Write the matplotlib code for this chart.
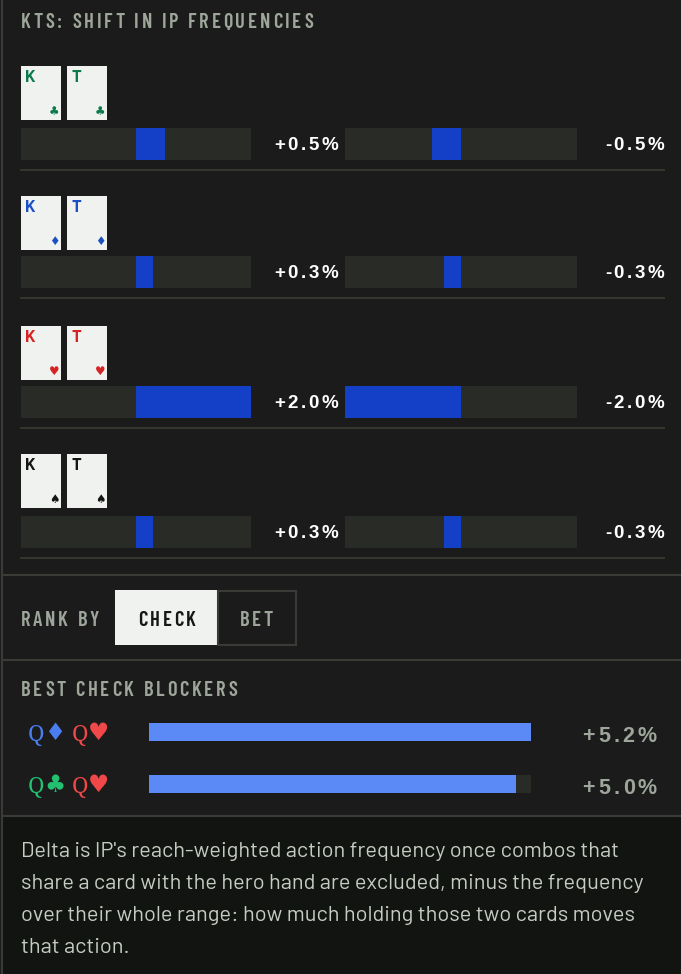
import matplotlib
matplotlib.use("Agg")
import matplotlib.pyplot as plt
from matplotlib.patches import Rectangle
from matplotlib.font_manager import FontProperties

# ---- data -------------------------------------------------------------
title = "KTS: SHIFT IN IP FREQUENCIES"
ranks = ["K", "T"]
suits = ["♣", "♦", "♥", "♠"]
check_delta = [0.5, 0.3, 2.0, 0.3]
bet_delta = [-0.5, -0.3, -2.0, -0.3]
delta_max = 2.0

blocker_cards = [[("Q", "♦"), ("Q", "♥")], [("Q", "♣"), ("Q", "♥")]]
blocker_values = [5.2, 5.0]

note_lines = [
    "Delta is IP's reach-weighted action frequency once combos that",
    "share a card with the hero hand are excluded, minus the frequency",
    "over their whole range: how much holding those two cards moves",
    "that action.",
]

# ---- style ------------------------------------------------------------
W, H = 681, 974
BG = "#1a1b1a"
NOTE_BG = "#121411"
TRACK = "#282b26"
BLUE = "#1340c6"
LIGHT_BLUE = "#5b8af7"
LINE = "#3a3b36"
MUTED = "#9ea69b"
CARD = "#f0f2ef"
card_col = {"♣": "#0b7a4c", "♦": "#1b4fc4", "♥": "#d42424", "♠": "#141514"}
label_col = {"♣": "#22c070", "♦": "#4a7ef0", "♥": "#f04848"}

fig = plt.figure(figsize=(W / 100, H / 100), dpi=100, facecolor=BG)
ax = fig.add_axes([0, 0, 1, 1])
ax.set_xlim(0, W)
ax.set_ylim(H, 0)
ax.set_axis_off()
renderer = fig.canvas.get_renderer()


def text_w(s, prop):
    return renderer.get_text_width_height_descent(s, prop, ismath=False)[0]


def tracked(x, y, s, prop, color, tracking=0.0, width=None, ha="left"):
    ws = [text_w(c, prop) for c in s]
    if width is not None:
        tracking = (width - sum(ws)) / (len(s) - 1)
    total = sum(ws) + tracking * (len(s) - 1)
    x0 = {"left": x, "right": x - total, "center": x - total / 2}[ha]
    for c, w in zip(s, ws):
        ax.text(x0, y, c, fontproperties=prop, color=color, va="baseline", ha="left")
        x0 += w + tracking


def bar_axes(x, y, w, h):
    a = fig.add_axes([x / W, 1 - (y + h) / H, w / W, h / H])
    a.set_facecolor(TRACK)
    a.set_xticks([])
    a.set_yticks([])
    for s in a.spines.values():
        s.set_visible(False)
    a.set_ylim(0, 1)
    return a


head = FontProperties(family="Barlow Condensed", weight=600, size=14.8)
valp = FontProperties(family="Liberation Sans", weight="bold", size=13.5)
rankp = FontProperties(family="Barlow", weight="bold", size=12)
suitp = FontProperties(family="DejaVu Sans", size=8.5)

# frame
ax.add_patch(Rectangle((3, 817), W, H - 817, facecolor=NOTE_BG, edgecolor="none"))
ax.plot([2, 2], [0, H], color=LINE, lw=1.5)
for yy in [575, 660, 816]:
    ax.plot([2, W], [yy, yy], color=LINE, lw=1.5)

tracked(21, 28, title, head, MUTED, width=292)

# ---- hand rows --------------------------------------------------------
card_tops = [66, 196, 326, 454]
bar_tops = [128, 256, 386, 516]
for i, suit in enumerate(suits):
    for j, r in enumerate(ranks):
        cx = 21 + j * 46
        cy = card_tops[i]
        ax.add_patch(Rectangle((cx, cy), 40, 54, facecolor=CARD, edgecolor="none"))
        ax.text(cx + 4, cy + 16, r, fontproperties=rankp, color=card_col[suit], va="baseline")
        ax.text(cx + 33, cy + 49, suit, fontproperties=suitp, color=card_col[suit],
                va="baseline", ha="center")

    bt = bar_tops[i]
    la = bar_axes(21, bt, 230, 32)
    la.set_xlim(-delta_max, delta_max)
    la.barh(0.5, check_delta[i], height=1, left=0, color=BLUE)
    ra = bar_axes(345, bt, 232, 32)
    ra.set_xlim(-delta_max, delta_max)
    ra.barh(0.5, bet_delta[i], height=1, left=0, color=BLUE)

    tracked(338, bt + 22, "%+.1f%%" % check_delta[i], valp, "white", tracking=2.5, ha="right")
    tracked(664, bt + 22, "%+.1f%%" % bet_delta[i], valp, "white", tracking=2.5, ha="right")
    ax.plot([21, 664], [bt + 42, bt + 42], color="#34352f", lw=1.5)

# ---- rank by ----------------------------------------------------------
tracked(21, 626, "RANK BY", head, MUTED, width=78)
ax.add_patch(Rectangle((115, 590), 102, 55, facecolor=CARD, edgecolor="none"))
ax.add_patch(Rectangle((218, 591), 78, 54, facecolor="none", edgecolor=LINE, lw=1.5))
tracked(138, 626, "CHECK", head, "#151615", width=58)
tracked(240, 626, "BET", head, MUTED, width=33)

# ---- blockers ---------------------------------------------------------
tracked(21, 696, "BEST CHECK BLOCKERS", head, MUTED, width=216)
labp = FontProperties(family=["Noto Serif", "DejaVu Serif"], weight="bold", size=16)
lsuit = FontProperties(family="DejaVu Sans", size=17)
vb = FontProperties(family="Liberation Sans", weight="bold", size=15.5)
bl_base = [741, 793]
for k, cards in enumerate(blocker_cards):
    x = 28
    for r, s in cards:
        ax.text(x, bl_base[k], r, fontproperties=labp, color=label_col[s], va="baseline")
        x += text_w(r, labp)
        ax.text(x, bl_base[k] - 1, s, fontproperties=lsuit, color=label_col[s], va="baseline")
        x += text_w(s, lsuit) + 6
    ba = bar_axes(149, bl_base[k] - 18, 382, 18)
    ba.set_xlim(0, max(blocker_values))
    ba.barh(0.5, blocker_values[k], height=1, left=0, color=LIGHT_BLUE)
    tracked(657, bl_base[k] + 1, "%+.1f%%" % blocker_values[k], vb, MUTED, tracking=3.2, ha="right")

# ---- note -------------------------------------------------------------
notep = FontProperties(family="Barlow", size=15.7)
for n, line in enumerate(note_lines):
    ax.text(21, 857 + n * 32, line, fontproperties=notep, color="#c5cdc2", va="baseline")

fig.savefig("out.png", dpi=100, facecolor=BG)
